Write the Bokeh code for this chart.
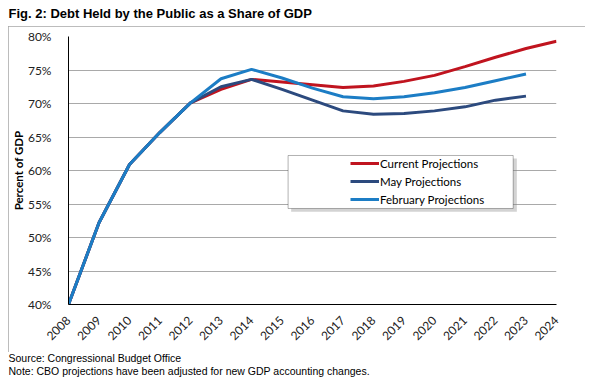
from math import pi
from bokeh.plotting import figure
from bokeh.layouts import column
from bokeh.models import Range1d, FixedTicker, BoxAnnotation, Legend, LegendItem, Label
from bokeh.embed import file_html
from bokeh.resources import INLINE

# ---- data ----
years = list(range(2008, 2025))
year_labels = [str(y) for y in years]
current = [40.0, 52.2, 60.9, 65.7, 70.1, 72.1, 73.6, 73.2, 72.8, 72.4, 72.6,
           73.3, 74.2, 75.5, 76.9, 78.2, 79.3]
may_years = list(range(2008, 2024))
may = [40.0, 52.2, 60.9, 65.7, 70.1, 72.5, 73.6, 72.1, 70.5, 68.9, 68.4,
       68.5, 68.9, 69.5, 70.5, 71.1]
feb_years = list(range(2008, 2024))
feb = [40.0, 52.2, 60.9, 65.7, 70.1, 73.7, 75.1, 73.8, 72.3, 71.0, 70.7,
       71.0, 71.6, 72.4, 73.4, 74.4]
y_ticks = [40, 45, 50, 55, 60, 65, 70, 75, 80]
y_tick_labels = ["40%", "45%", "50%", "55%", "60%", "65%", "70%", "75%", "80%"]
series_names = ["Current Projections", "May Projections", "February Projections"]
colors = ["#C0141F", "#2C4A7E", "#1C7DC5"]

title_text = "Fig. 2: Debt Held by the Public as a Share of GDP"
source_text = "Source: Congressional Budget Office"
note_text = "Note: CBO projections have been adjusted for new GDP accounting changes."


def text_strip(height):
    f = figure(width=593, height=height, x_range=Range1d(0, 1), y_range=Range1d(0, 1),
               x_axis_location=None, y_axis_location=None, output_backend="svg",
               toolbar_location=None, min_border=0, frame_align=False)
    f.outline_line_color = None
    f.grid.visible = False
    f.background_fill_color = "white"
    f.border_fill_color = "white"
    return f


# ---- title strip ----
top = text_strip(26)
top.add_layout(Label(x=8, y=13.5, x_units="screen", y_units="screen", text=title_text,
                     text_baseline="middle", text_font="Liberation Sans",
                     text_font_style="bold", text_font_size="13px", text_color="black"))

# ---- main chart ----
p = figure(width=577, height=326, x_range=Range1d(2008, 2024), y_range=Range1d(40, 80),
           output_backend="svg", toolbar_location=None, frame_align=False,
           min_border_left=58, min_border_right=29, min_border_top=10,
           min_border_bottom=48, margin=(0, 0, 0, 8))
p.styles = {"outline": "1px solid #A6A6A6", "outline-offset": "-1px"}
p.outline_line_color = None
p.background_fill_color = "white"
p.border_fill_color = "white"
p.xgrid.grid_line_color = None
p.ygrid.ticker = FixedTicker(ticks=y_ticks)
p.ygrid.grid_line_color = "#A9A9A9"
p.ygrid.grid_line_width = 1

tick_font = "Lato"
xa = p.xaxis[0]
xa.ticker = FixedTicker(ticks=years)
xa.major_label_overrides = {y: l for y, l in zip(years, year_labels)}
xa.major_label_orientation = pi / 4
xa.major_tick_line_color = None
xa.minor_tick_line_color = None
xa.axis_line_color = "black"
xa.major_label_text_font = tick_font
xa.major_label_text_font_size = "12px"
xa.major_label_text_color = "#222222"
xa.major_label_standoff = 8

ya = p.yaxis[0]
ya.ticker = FixedTicker(ticks=y_ticks)
ya.major_label_overrides = {t: l for t, l in zip(y_ticks, y_tick_labels)}
ya.major_tick_line_color = None
ya.minor_tick_line_color = None
ya.axis_line_color = "black"
ya.major_label_text_font = tick_font
ya.major_label_text_font_size = "12px"
ya.major_label_text_color = "#222222"
ya.major_label_standoff = 11
ya.axis_label = "Percent of GDP"
ya.axis_label_text_font = "Lato"
ya.axis_label_text_font_style = "bold"
ya.axis_label_text_font_size = "11.5px"
ya.axis_label_text_color = "black"
ya.axis_label_standoff = 0

r_cur = p.line(years, current, line_color=colors[0], line_width=3)
r_may = p.line(may_years, may, line_color=colors[1], line_width=3)
r_feb = p.line(feb_years, feb, line_color=colors[2], line_width=3)

# legend box with shadow
p.add_layout(BoxAnnotation(left=2015.30, right=2022.70, top=61.8, bottom=53.85,
                           fill_color="#808080", fill_alpha=0.35, line_color=None))
p.add_layout(BoxAnnotation(left=2015.20, right=2022.58, top=62.24, bottom=54.33,
                           fill_color="white", fill_alpha=1, line_color="black", line_width=1))

legend = Legend(items=[LegendItem(label=series_names[0], renderers=[r_cur]),
                       LegendItem(label=series_names[1], renderers=[r_may]),
                       LegendItem(label=series_names[2], renderers=[r_feb])],
                location=(282, 97))
legend.background_fill_alpha = 0
legend.border_line_alpha = 0
legend.padding = 0
legend.margin = 0
legend.spacing = 2
legend.glyph_width = 29
legend.glyph_height = 16
legend.label_height = 16
legend.label_standoff = 1
legend.label_text_font = "Lato"
legend.label_text_font_size = "11.5px"
legend.label_text_color = "black"
p.add_layout(legend)

# ---- footer strip ----
bottom = text_strip(29)
bottom.add_layout(Label(x=8, y=24, x_units="screen", y_units="screen", text=source_text,
                        text_baseline="middle", text_font="Liberation Sans",
                        text_font_size="10.5px", text_color="black"))
bottom.add_layout(Label(x=8, y=11, x_units="screen", y_units="screen", text=note_text,
                        text_baseline="middle", text_font="Liberation Sans",
                        text_font_size="10.5px", text_color="black"))

layout = column(top, p, bottom, spacing=0)
open("out.html", "w").write(file_html(layout, INLINE))
